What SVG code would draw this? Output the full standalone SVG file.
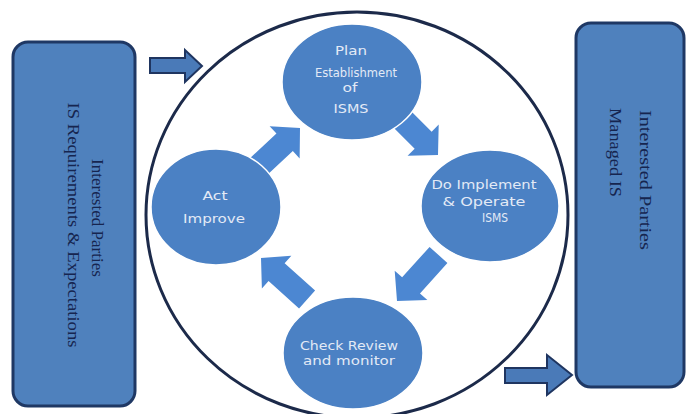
<svg xmlns="http://www.w3.org/2000/svg" width="688" height="414" viewBox="0 0 688 414">
<style>
.box{fill:#4f81bd;stroke:#1f3864;stroke-width:3}
.btxt{font-family:"Liberation Serif","Times New Roman",serif;font-size:17px;fill:#16254f}
.phase{fill:#4b81c4;stroke:#ffffff;stroke-width:1.5}
.ptxt{font-family:"DejaVu Sans","Liberation Sans",sans-serif;font-size:12px;fill:#e3eaf6;text-anchor:middle}
.flow{fill:#4c87d2}
.side{fill:#4a7ab8;stroke:#1f3560;stroke-width:2;stroke-linejoin:miter}
.ring{fill:none;stroke:#1c2a4a;stroke-width:3}
</style>
<defs>
<polygon id="blk" points="-62,-12 -21,-12 -21,-22 0,0 -21,22 -21,12 -62,12"/>
</defs>
<rect width="688" height="414" fill="#ffffff"/>
<g id="connectors">
<polygon class="side" points="150,58 185,58 185,50 202,66 185,82 185,73 150,73"/>
<polygon class="side" points="505,368 547,368 547,355 572,375 547,395 547,383 505,383"/>
<use href="#blk" class="flow" transform="translate(438,155) rotate(45)"/>
<use href="#blk" class="flow" transform="translate(397,301) rotate(132)"/>
<use href="#blk" class="flow" transform="translate(261,258) rotate(222)"/>
<use href="#blk" class="flow" transform="translate(300,128) rotate(-43)"/>
</g>
<g id="left-box">
<rect class="box" x="13" y="42" width="122" height="364" rx="15"/>
<text class="btxt" text-anchor="middle" textLength="118" lengthAdjust="spacingAndGlyphs" transform="translate(92,218) rotate(90)">Interested Parties</text>
<text class="btxt" text-anchor="middle" textLength="245" lengthAdjust="spacingAndGlyphs" transform="translate(68,225) rotate(90)">IS Requirements &amp; Expectations</text>
</g>
<g id="right-box">
<rect class="box" x="576" y="23" width="108" height="364" rx="15"/>
<text class="btxt" textLength="140" lengthAdjust="spacingAndGlyphs" transform="translate(640,110) rotate(90)">Interested Parties</text>
<text class="btxt" textLength="89" lengthAdjust="spacingAndGlyphs" transform="translate(610,108) rotate(90)">Managed IS</text>
</g>
<g id="plan">
<ellipse class="phase" cx="352" cy="82" rx="70" ry="58"/>
<text class="ptxt" x="351" y="55" textLength="32" lengthAdjust="spacingAndGlyphs">Plan</text>
<text class="ptxt" x="356" y="77" textLength="82" lengthAdjust="spacingAndGlyphs">Establishment</text>
<text class="ptxt" x="350" y="92" textLength="15" lengthAdjust="spacingAndGlyphs">of</text>
<text class="ptxt" x="351" y="113" textLength="35" lengthAdjust="spacingAndGlyphs">ISMS</text>
</g>
<g id="do">
<ellipse class="phase" cx="490" cy="206" rx="69" ry="56"/>
<text class="ptxt" x="484" y="189" textLength="105" lengthAdjust="spacingAndGlyphs">Do Implement</text>
<text class="ptxt" x="484" y="206" textLength="83" lengthAdjust="spacingAndGlyphs">&amp; Operate</text>
<text class="ptxt" x="495" y="222" textLength="26" lengthAdjust="spacingAndGlyphs">ISMS</text>
</g>
<g id="act">
<ellipse class="phase" cx="216" cy="207" rx="65" ry="58"/>
<text class="ptxt" x="215" y="200" textLength="25" lengthAdjust="spacingAndGlyphs">Act</text>
<text class="ptxt" x="214" y="223" textLength="62" lengthAdjust="spacingAndGlyphs">Improve</text>
</g>
<g id="check">
<ellipse class="phase" cx="353" cy="353" rx="70" ry="56"/>
<text class="ptxt" x="349" y="350" textLength="98" lengthAdjust="spacingAndGlyphs">Check Review</text>
<text class="ptxt" x="349" y="365" textLength="92" lengthAdjust="spacingAndGlyphs">and monitor</text>
</g>
<g id="cycle-ring">
<ellipse class="ring" cx="357" cy="215" rx="211" ry="203"/>
</g>
</svg>
